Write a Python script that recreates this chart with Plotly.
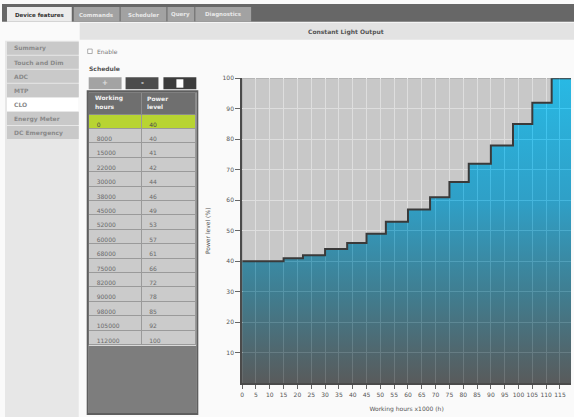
import plotly.graph_objects as go

# ---------------- data ----------------
HOURS = [0, 8000, 15000, 22000, 30000, 38000, 45000, 52000, 60000, 68000,
         75000, 82000, 90000, 98000, 105000, 112000]
LEVELS = [40, 40, 41, 42, 44, 46, 49, 53, 57, 61, 66, 72, 78, 85, 92, 100]
X_END = 119          # end of x axis range (thousands of hours)
Y_MAX = 100          # top of y axis range
X_TICKS = list(range(0, 120, 5))
Y_TICKS = list(range(10, 101, 10))

TABS = ["Device features", "Commands", "Scheduler", "Query", "Diagnostics"]
MENU = ["Summary", "Touch and Dim", "ADC", "MTP", "CLO", "Energy Meter", "DC Emergency"]
SELECTED_MENU = "CLO"
TITLE = "Constant Light Output"
HEADERS = [["Working", "hours"], ["Power", "level"]]

W, H = 574, 417
FONT = "DejaVu Sans"


def px(x):
    return x / W


def py(y):
    return 1 - y / H


shapes = []
annots = []


def rect(x0, y0, x1, y1, fill, line=None, lw=0, layer="below"):
    shapes.append(dict(type="rect", xref="paper", yref="paper",
                       x0=px(x0), x1=px(x1), y0=py(y1), y1=py(y0),
                       fillcolor=fill, layer=layer,
                       line=dict(color=line or fill, width=lw)))


def text(x, y, s, size=6, color="#555", bold=False, xanchor="left", yanchor="middle", angle=0):
    annots.append(dict(xref="paper", yref="paper", x=px(x), y=py(y),
                       text=f"<b>{s}</b>" if bold else s, showarrow=False,
                       xanchor=xanchor, yanchor=yanchor, textangle=angle,
                       font=dict(family=FONT, size=size, color=color)))


# ---------------- UI chrome ----------------
rect(0, 0, W, 18, "#676767")
tab_x = [(5, 70), (72, 118), (119, 165), (166, 193), (194, 250)]
for i, (t, (a, b)) in enumerate(zip(TABS, tab_x)):
    if i == 0:
        rect(a, 3, b, 18, "#ececec")
        text((a + b) / 2, 11, t, size=5.5, color="#333", bold=True, xanchor="center")
    else:
        rect(a, 3, b, 18, "#a2a2a2")
        text((a + b) / 2, 11, t, size=5.5, color="#e8e8e8", bold=True, xanchor="center")

rect(78, 19, W, 36, "#e3e3e3")
text(345, 28, TITLE, size=6, color="#555", bold=True, xanchor="center")

# sidebar
rect(3, 37, 77, H, "#e7e7e7")
for i, m in enumerate(MENU):
    y0 = 38 + i * 14.2
    sel = (m == SELECTED_MENU)
    rect(5, y0, 77, y0 + 13.2, "#ffffff" if sel else "#c9c9c9")
    text(10, y0 + 6.8, m, size=6, color="#8a8a8a", bold=True)

# enable + schedule
rect(86, 45.5, 90.5, 50, "#ffffff", line="#999", lw=0.8)
text(93, 48, "Enable", size=6, color="#777")
text(85, 65, "Schedule", size=6, color="#555", bold=True)

# buttons
rect(87, 74, 120, 86, "#a3a3a3")
text(103.5, 80, "+", size=7, color="#e0e0e0", bold=True, xanchor="center")
rect(124, 74, 157, 86, "#4c4c4c")
text(140.5, 80, "-", size=7, color="#f0f0f0", bold=True, xanchor="center")
rect(162, 74, 195, 86, "#3c3c3c")
rect(175, 76, 182, 84.5, "#ffffff")

# table header text, filler & border
col_x = [(87, 140), (140, 195)]
for (a, b), lines in zip(col_x, HEADERS):
    text(a + 4, 95, lines[0], size=6, color="#f2f2f2", bold=True)
    text(a + 4, 103.5, lines[1], size=6, color="#f2f2f2", bold=True)
rect(87, 345, 195, 413, "#7d7d7d")
rect(86, 88, 196, 414, "rgba(0,0,0,0)", line="#5e5e5e", lw=2, layer="above")

# ---------------- table ----------------
n = len(HOURS)
row_fill = ["#b8d432"] + ["#cbcbcb"] * (n - 1)
row_font = ["#4a4a4a"] + ["#6a6a6a"] * (n - 1)
table = go.Table(
    domain=dict(x=[px(87), px(195)], y=[py(413), py(89)]),
    columnwidth=[53, 55],
    header=dict(values=["", ""], height=22, fill_color="#6f6f6f",
                line=dict(color="#8c8c8c", width=1)),
    cells=dict(values=[[str(h) for h in HOURS], [str(l) for l in LEVELS]],
               fill_color=[row_fill, row_fill], align="left",
               line=dict(color="#9a9a9a", width=1), height=14.4,
               font=dict(family=FONT, size=6, color=[row_font, row_font])),
)

# ---------------- step chart ----------------
xs = [h / 1000 for h in HOURS] + [X_END]
ys = LEVELS + [LEVELS[-1]]

ALPHA = 0.85
fill_blue = go.Scatter(
    x=xs, y=ys, mode="lines", line=dict(width=0, shape="hv"),
    fill="tozeroy",
    fillgradient=dict(type="vertical", start=0, stop=Y_MAX,
                      colorscale=[[0.0, f"rgba(86,86,86,{ALPHA})"],
                                  [0.3, f"rgba(56,128,150,{ALPHA})"],
                                  [0.6, f"rgba(36,168,214,{ALPHA})"],
                                  [1.0, f"rgba(28,198,249,{ALPHA})"]]),
    hoverinfo="skip")
fill_grey = go.Scatter(
    x=[0, X_END], y=[Y_MAX, Y_MAX], mode="lines", line=dict(width=0, shape="hv"),
    fill="tonexty", fillcolor=f"rgba(216,216,216,{ALPHA})", hoverinfo="skip")
step_line = go.Scatter(
    x=xs, y=ys, mode="lines", line=dict(color="#3a3a3a", width=2, shape="hv"),
    hoverinfo="skip")

fig = go.Figure([table, fill_blue, fill_grey, step_line])

fig.update_layout(
    width=W, height=H, margin=dict(l=0, r=0, t=0, b=0),
    paper_bgcolor="#fafafa", plot_bgcolor="#6e6e6e",
    showlegend=False, shapes=shapes, annotations=annots,
    font=dict(family=FONT, size=6, color="#555"),
    xaxis=dict(domain=[px(241), px(571)], range=[0, X_END], tickvals=X_TICKS,
               ticks="outside", ticklen=4, tickcolor="#666", tickwidth=1,
               showline=True, linecolor="#4a4a4a", linewidth=2,
               showgrid=True, gridcolor="#ffffff", gridwidth=1, zeroline=False,
               tickfont=dict(family=FONT, size=6, color="#555"),
               title=dict(text="Working hours x1000 (h)", standoff=10,
                          font=dict(family=FONT, size=6, color="#555"))),
    yaxis=dict(domain=[py(383), py(75)], range=[0, Y_MAX], tickvals=Y_TICKS,
               ticks="outside", ticklen=5, tickcolor="#666", tickwidth=1,
               showline=True, linecolor="#4a4a4a", linewidth=2,
               showgrid=True, gridcolor="#ffffff", gridwidth=1, zeroline=False,
               tickfont=dict(family=FONT, size=6, color="#555"),
               title=dict(text="Power level (%)", standoff=11,
                          font=dict(family=FONT, size=6, color="#555"))),
)

fig.write_html("out.html",
               config={"displayModeBar": False},
               post_script="document.body.style.margin='0';"
                           "document.body.style.overflow='hidden';")
